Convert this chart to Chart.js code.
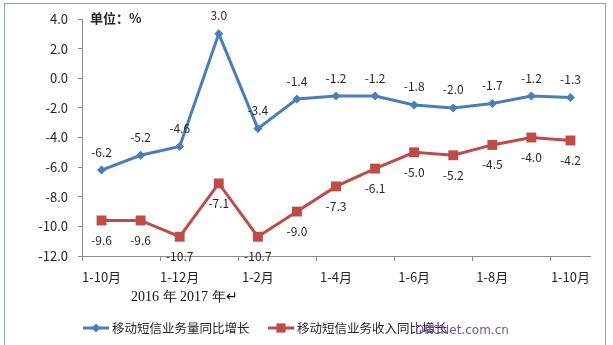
<!DOCTYPE html>
<html>
<head>
<meta charset="utf-8">
<script src="https://cdn.jsdelivr.net/npm/chart.js@4.4.0/dist/chart.umd.min.js"></script>
<style>
  html, body { margin: 0; padding: 0; background: #fff; }
  #wrap { width: 613px; height: 345px; position: relative; }
</style>
</head>
<body>
<div id="wrap"><canvas id="chart" width="613" height="345"></canvas></div>
<script>
// periods (only every other one gets a label on the axis)
const periods = ["1-10月", "", "1-12月", "", "1-2月", "", "1-4月", "", "1-6月", "", "1-8月", "", "1-10月"];
// SMS volume growth, %
const volumeGrowth = [-6.2, -5.2, -4.6, 3.0, -3.4, -1.4, -1.2, -1.2, -1.8, -2.0, -1.7, -1.2, -1.3];
// SMS revenue growth, %
const revenueGrowth = [-9.6, -9.6, -10.7, -7.1, -10.7, -9.0, -7.3, -6.1, -5.0, -5.2, -4.5, -4.0, -4.2];
const seriesNames = ["移动短信业务量同比增长", "移动短信业务收入同比增长"];
const yTicks = [-12, -10, -8, -6, -4, -2, 0, 2, 4];

const BLUE = "#4a7ebb";
const RED = "#be4b48";
const FONT = "'Noto Sans CJK SC', 'Noto Sans', sans-serif";

// value labels: blue above the points, red below
const valueLabels = {
  id: "valueLabels",
  afterDatasetsDraw(chart) {
    const { ctx } = chart;
    ctx.save();
    ctx.font = "12px " + FONT;
    ctx.fillStyle = "#262626";
    ctx.textAlign = "center";
    ctx.textBaseline = "middle";
    chart.data.datasets.forEach((ds, i) => {
      const meta = chart.getDatasetMeta(i);
      meta.data.forEach((pt, j) => {
        const dy = i === 0 ? -18 : 20;
        ctx.fillText(ds.data[j].toFixed(1), pt.x, pt.y + dy);
      });
    });
    ctx.restore();
  }
};

// frame, unit text, legend and the footer bits
const decorations = {
  id: "decorations",
  beforeDraw(chart) {
    const { ctx } = chart;
    ctx.save();
    ctx.fillStyle = "#fff";
    ctx.fillRect(0, 0, chart.width, chart.height);
    ctx.strokeStyle = "#86a3c9";
    ctx.lineWidth = 1;
    ctx.strokeRect(4.5, 3.5, 601, 345);
    ctx.restore();
  },
  afterDraw(chart) {
    const { ctx } = chart;
    ctx.save();
    ctx.textBaseline = "middle";
    ctx.fillStyle = "#262626";
    ctx.font = "bold 13px " + FONT;
    ctx.textAlign = "left";
    ctx.fillText("单位：%", 90, 18);

    ctx.font = "14px 'Liberation Serif', serif";
    ctx.fillStyle = "#111";
    ctx.fillText("2016 年 2017 年↵", 131, 297);

    // legend
    const items = [
      { x: 83, color: BLUE, style: "rectRot", r: 4.5 },
      { x: 268, color: RED, style: "rect", r: 6.5 }
    ];
    const ly = 328;
    ctx.font = "12.5px " + FONT;
    items.forEach((it, i) => {
      ctx.strokeStyle = it.color;
      ctx.lineWidth = 3;
      ctx.beginPath();
      ctx.moveTo(it.x, ly);
      ctx.lineTo(it.x + 26, ly);
      ctx.stroke();
      ctx.fillStyle = it.color;
      Chart.helpers.drawPoint(ctx, { pointStyle: it.style, radius: it.r, borderWidth: 0 }, it.x + 13, ly);
      ctx.fillStyle = "#262626";
      ctx.fillText(seriesNames[i], it.x + 29, ly);
    });

    // site mark, sits over the end of the second legend entry
    ctx.font = "12px 'DejaVu Sans', sans-serif";
    ctx.fillStyle = "#7450a8";
    ctx.fillText("DRCNet.com.cn", 415, 331);
    ctx.restore();
  }
};

new Chart(document.getElementById("chart"), {
  type: "line",
  data: {
    labels: periods,
    datasets: [
      {
        label: seriesNames[0],
        data: volumeGrowth,
        borderColor: BLUE,
        backgroundColor: BLUE,
        borderWidth: 3,
        pointStyle: "rectRot",
        pointRadius: 4.5,
        pointBorderWidth: 0,
        tension: 0
      },
      {
        label: seriesNames[1],
        data: revenueGrowth,
        borderColor: RED,
        backgroundColor: RED,
        borderWidth: 3,
        pointStyle: "rect",
        pointRadius: 7,
        pointBorderWidth: 0,
        tension: 0
      }
    ]
  },
  options: {
    responsive: false,
    animation: false,
    layout: { padding: { left: 0, right: 23, top: 19, bottom: 0 } },
    plugins: {
      legend: { display: false },
      tooltip: { enabled: false }
    },
    scales: {
      x: {
        offset: true,
        afterFit: (s) => { s.height = 89; },
        border: { color: "#8c8c8c", width: 1 },
        grid: {
          offset: true,
          drawOnChartArea: false,
          tickLength: 5,
          color: (c) => (c.index % 2 === 0 ? "#8c8c8c" : "rgba(0,0,0,0)")
        },
        ticks: {
          autoSkip: false,
          maxRotation: 0,
          padding: 8,
          color: "#262626",
          font: { family: FONT, size: 13 }
        }
      },
      y: {
        min: -12,
        max: 4,
        afterFit: (s) => { s.width = 82; },
        afterBuildTicks: (s) => { s.ticks = yTicks.map((v) => ({ value: v })); },
        border: { color: "#8c8c8c", width: 1 },
        grid: { drawOnChartArea: false, tickLength: 4, color: "#8c8c8c" },
        ticks: {
          padding: 10,
          color: "#262626",
          font: { family: FONT, size: 13 },
          callback: (v) => Number(v).toFixed(1)
        }
      }
    }
  },
  plugins: [decorations, valueLabels]
});
</script>
</body>
</html>
